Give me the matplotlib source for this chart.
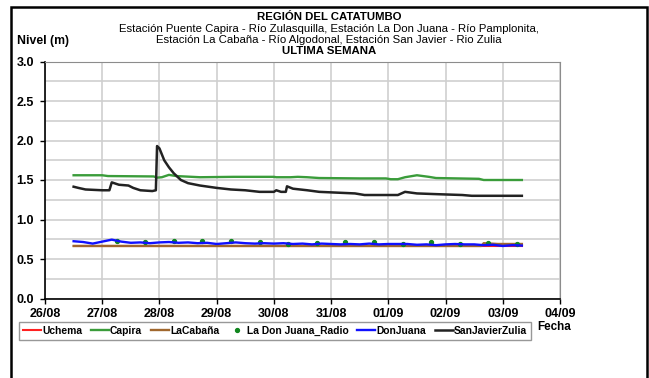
import numpy as np
import pandas as pd
import matplotlib
matplotlib.use("Agg")
import matplotlib.pyplot as plt
import matplotlib.dates as mdates
from matplotlib.patches import Rectangle

plt.rcParams['font.family'] = ['Liberation Sans', 'DejaVu Sans']

# datos: horas desde 26/08 00:00
t0 = pd.Timestamp("2012-08-26 00:00")

capira_h = [12, 24, 26.4, 45.6, 47, 49, 52, 55, 65, 79, 96, 97, 103, 106, 110, 115,
            132, 143, 145, 148, 151, 156, 161, 164, 182, 184, 200]
capira_v = [1.56, 1.56, 1.55, 1.545, 1.53, 1.535, 1.565, 1.55, 1.535, 1.54, 1.54, 1.535,
            1.535, 1.54, 1.535, 1.525, 1.52, 1.52, 1.51, 1.51, 1.535, 1.56, 1.54, 1.525,
            1.515, 1.50, 1.50]

sanjavier_h = [12, 14, 17, 24, 27, 28, 31, 35, 37, 40, 45, 46.5, 47, 48, 50, 52, 54, 57,
               60, 65, 72, 78, 84, 90, 96, 97, 99, 101, 101.5, 104, 110, 115, 130, 134,
               148, 151, 156, 165, 175, 179, 200]
sanjavier_v = [1.415, 1.40, 1.38, 1.37, 1.37, 1.47, 1.44, 1.43, 1.40, 1.37, 1.36, 1.37,
               1.93, 1.90, 1.75, 1.66, 1.585, 1.50, 1.46, 1.43, 1.40, 1.38, 1.37, 1.35,
               1.35, 1.37, 1.35, 1.35, 1.42, 1.39, 1.37, 1.35, 1.33, 1.31, 1.31, 1.35,
               1.33, 1.32, 1.31, 1.30, 1.30]

donjuana_h = list(range(12, 201, 4))
donjuana_v = [0.725, 0.715, 0.695, 0.72, 0.745, 0.72, 0.705, 0.71, 0.70, 0.71, 0.715,
              0.705, 0.71, 0.70, 0.705, 0.69, 0.70, 0.71, 0.70, 0.695, 0.70, 0.695, 0.70,
              0.69, 0.695, 0.685, 0.695, 0.69, 0.685, 0.69, 0.685, 0.695, 0.685, 0.69,
              0.69, 0.69, 0.68, 0.685, 0.675, 0.685, 0.69, 0.685, 0.685, 0.675, 0.68,
              0.665, 0.675, 0.67]

lacabana_h = [12, 183, 184, 190, 200]
lacabana_v = [0.665, 0.665, 0.70, 0.69, 0.69]

uchema_h = [12, 200]
uchema_v = [0.665, 0.665]

radio_h = [30, 42, 54, 66, 78, 90, 102, 114, 126, 138, 150, 162, 174, 186, 198]
radio_v = [0.73, 0.71, 0.722, 0.722, 0.73, 0.714, 0.692, 0.70, 0.714, 0.714, 0.692,
           0.714, 0.692, 0.705, 0.692]


def to_dates(h):
    return t0 + pd.to_timedelta(h, unit="h")


fig = plt.figure(figsize=(6.49, 3.78), dpi=100)
ax = fig.add_axes([45 / 649, 1 - 298.5 / 378, 515 / 649, 237 / 378])

ax.plot(to_dates(uchema_h), uchema_v, color="#FF2020", lw=1.5, label="Uchema")
ax.plot(to_dates(capira_h), capira_v, color="#3A9C3A", lw=1.7, label="Capira")
ax.plot(to_dates(lacabana_h), lacabana_v, color="#A0672E", lw=1.7, label="LaCabaña")
ax.plot(to_dates(radio_h), radio_v, ls="none", marker="o", ms=2.8, color="#11861F",
        label="La Don Juana_Radio")
ax.plot(to_dates(donjuana_h), donjuana_v, color="#1010FF", lw=1.7, label="DonJuana")
ax.plot(to_dates(sanjavier_h), sanjavier_v, color="#222222", lw=1.8, label="SanJavierZulia")

ax.set_xlim(t0, t0 + pd.Timedelta(days=9))
ax.set_ylim(0, 3.0)
ax.xaxis.set_major_locator(mdates.DayLocator())
ax.xaxis.set_major_formatter(mdates.DateFormatter("%d/%m"))
ax.set_yticks(np.arange(0, 3.01, 0.5))
ax.set_yticks(np.arange(0, 3.01, 0.25), minor=True)
ax.yaxis.set_major_formatter(matplotlib.ticker.FormatStrFormatter("%.1f"))
ax.grid(True, which="both", color="#CFCFCF", lw=1.2)
ax.set_axisbelow(True)
ax.tick_params(axis="y", which="minor", length=0)
ax.tick_params(axis="both", which="major", direction="out", length=3.5, width=1,
               labelsize=9)
ax.tick_params(axis="x", pad=3.5)
ax.tick_params(axis="y", pad=4.5)
for lab in ax.get_xticklabels() + ax.get_yticklabels():
    lab.set_fontweight("bold")

for s in ["top", "right"]:
    ax.spines[s].set_color("#8C8C8C")
for s in ["left", "bottom"]:
    ax.spines[s].set_color("black")
    ax.spines[s].set_linewidth(1.2)

leg = fig.legend(loc="center", bbox_to_anchor=(275 / 649, 1 - 331 / 378), ncol=6,
                 frameon=True, fancybox=False, edgecolor="#7F7F7F",
                 prop={"weight": "bold", "size": 7.4}, handlelength=1.75,
                 handletextpad=0.15, columnspacing=0.8, borderpad=0.35,
                 markerscale=1.0, numpoints=1)
leg.get_frame().set_linewidth(1.0)

fig.text(537 / 649, 1 - 327 / 378, "Fecha", fontsize=8.4, fontweight="bold",
         ha="left", va="center")
fig.text(17 / 649, 1 - 41 / 378, "Nivel (m)", fontsize=8.8, fontweight="bold",
         ha="left", va="center")

cx = 329 / 649
fs = 8.2
fig.text(cx, 1 - 17 / 378, "REGIÓN DEL CATATUMBO", fontsize=fs, fontweight="bold",
         ha="center", va="center")
fig.text(cx, 1 - 28.5 / 378,
         "Estación Puente Capira - Río Zulasquilla, Estación La Don Juana - Río Pamplonita,",
         fontsize=fs, ha="center", va="center")
fig.text(cx, 1 - 40 / 378,
         "Estación La Cabaña - Río Algodonal, Estación San Javier - Rio Zulia",
         fontsize=fs, ha="center", va="center")
fig.text(cx, 1 - 51.5 / 378, "ULTIMA SEMANA", fontsize=fs, fontweight="bold",
         ha="center", va="center")

# marco exterior
fig.patches.append(Rectangle((11 / 649, -0.05), 636 / 649, 1 - 7 / 378 + 0.05,
                             transform=fig.transFigure, fill=False,
                             edgecolor="black", lw=1.8))

fig.savefig("out.png", dpi=100)
